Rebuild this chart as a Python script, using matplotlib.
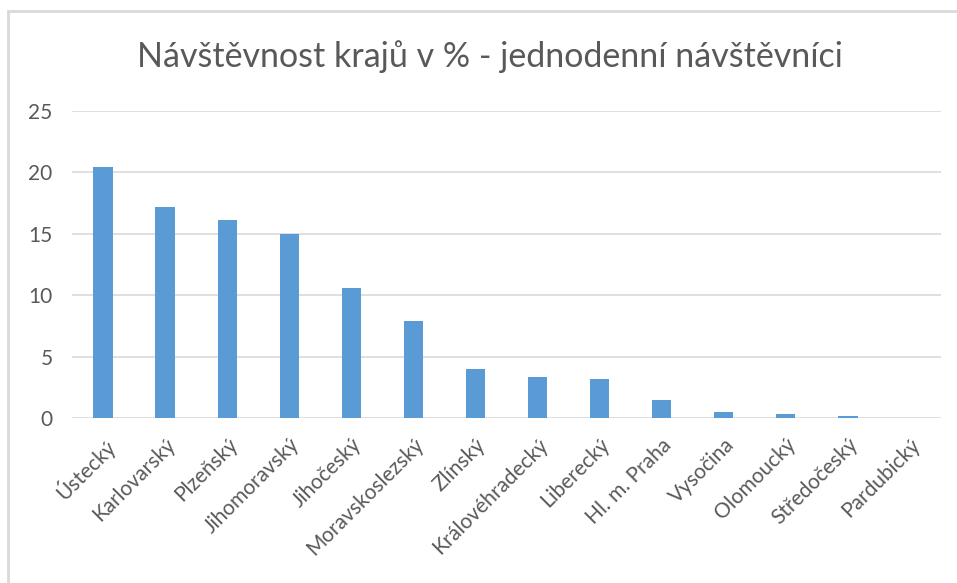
import matplotlib
matplotlib.use("Agg")
import matplotlib.pyplot as plt
from matplotlib.patches import Rectangle

# data
regions = ["Ústecký", "Karlovarský", "Plzeňský", "Jihomoravský", "Jihočeský",
           "Moravskoslezský", "Zlínský", "Královéhradecký", "Liberecký",
           "Hl. m. Praha", "Vysočina", "Olomoucký", "Středočeský", "Pardubický"]
shares = [20.4, 17.2, 16.1, 15.0, 10.6, 7.9, 4.0, 3.3, 3.2, 1.5, 0.46, 0.35, 0.16, 0.0]
yticks = [0, 5, 10, 15, 20, 25]
title = "Návštěvnost krajů v % - jednodenní návštěvníci"

text_col = "#595959"
plt.rcParams["font.family"] = ["Lato", "DejaVu Sans"]

W, H = 957, 583
fig = plt.figure(figsize=(W / 100, H / 100), dpi=100)

# chart area frame (right and bottom edges fall outside the picture)
fig.patches.append(Rectangle((8 / W, -0.2), 1.2, 1.2 - 11 / H, transform=fig.transFigure,
                             fill=False, edgecolor="#D9D9D9", linewidth=2))

ax = fig.add_axes([72 / W, 1 - 418 / H, (941 - 72) / W, (418 - 110.7) / H])
x = range(len(regions))
ax.bar(x, shares, width=0.31, color="#5B9BD5", zorder=3)

ax.set_xlim(-0.5, len(regions) - 0.5)
ax.set_ylim(0, 25)
ax.set_yticks(yticks)
ax.yaxis.grid(True, color="#D9D9D9", linewidth=1.2, zorder=0)
for s in ax.spines.values():
    s.set_visible(False)
ax.tick_params(axis="both", length=0, colors=text_col, labelsize=15)
ax.tick_params(axis="y", pad=14)
ax.set_xticks(list(x))
ax.set_xticklabels(regions, rotation=45, ha="right", rotation_mode="anchor")
ax.tick_params(axis="x", pad=12)

fig.text(490 / W, 1 - 57 / H, title, ha="center", va="center",
         fontsize=24.5, color=text_col)

fig.savefig("out.png", dpi=100)
